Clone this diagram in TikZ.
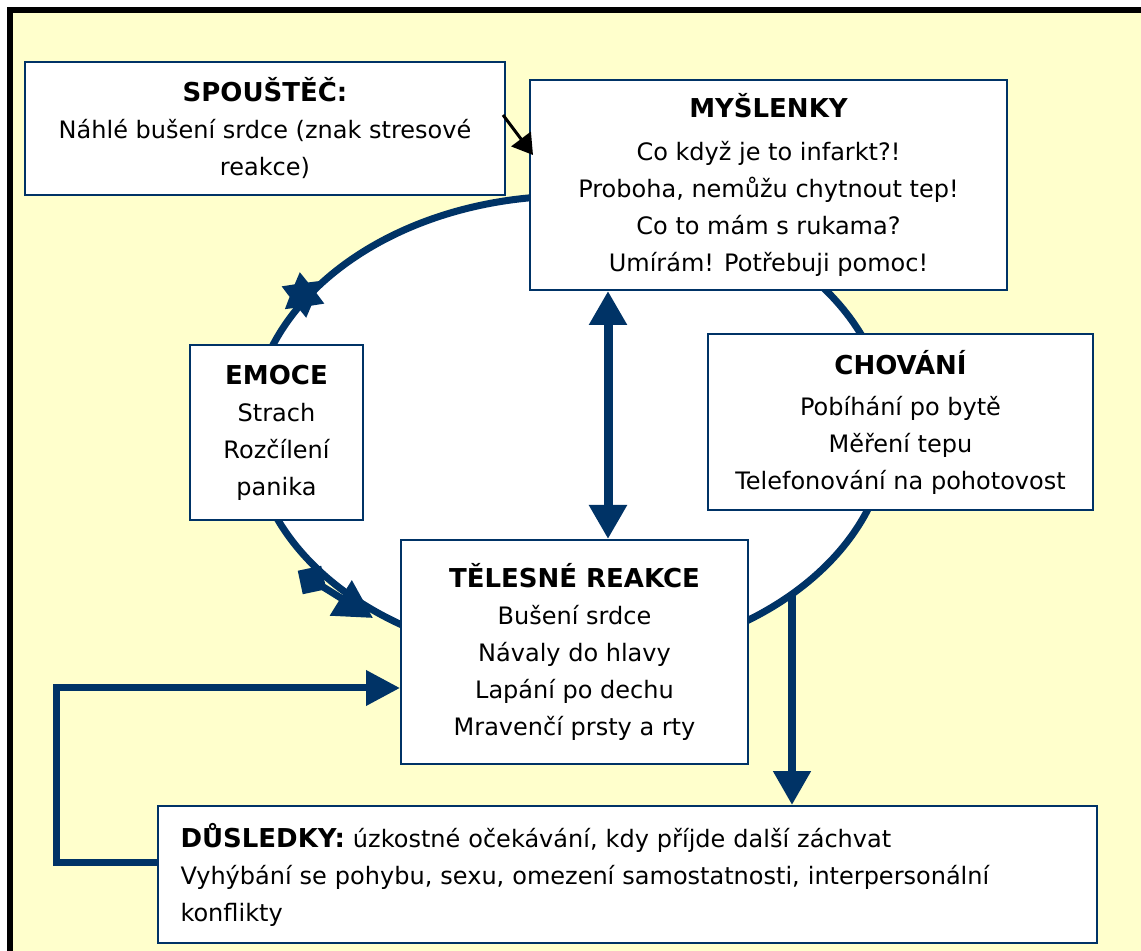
\documentclass[tikz,border=0pt]{standalone}
\usepackage{fontspec}
\setmainfont{DejaVu Sans}
\usetikzlibrary{arrows.meta,shapes.geometric}
\definecolor{navy}{RGB}{0,51,102}
\definecolor{paper}{RGB}{255,255,204}
\tikzset{
  box/.style={draw=navy, line width=1pt, fill=white, align=center, inner sep=0pt,
    font=\fontsize{12}{18.5}\selectfont},
  loopline/.style={draw=navy, line width=3.5pt},
  bigarrow/.style={navy, line width=4.5pt, -{Triangle[length=17pt,width=18pt]}},
}
\newcommand{\ttl}[1]{{\fontsize{13}{18.5}\selectfont\bfseries #1}}

\begin{document}
\begin{tikzpicture}[x=0.5pt,y=-0.5pt]
\useasboundingbox (0,0) rectangle (1141,951);
\fill [white] (0,0) rectangle (1141,951);
\fill [paper] (10,10) rectangle (1160,970);
\draw [black, line width=3pt] (10,970) -- (10,10) -- (1160,10);
% the loop
\draw [loopline, fill=white] (570,428) ellipse [x radius=318, y radius=232];
\node [star, star points=6, star point ratio=1.7, fill=navy, minimum size=23pt, inner sep=0pt, rotate=8] (stb) at (303,295) {};
\node [rectangle, fill=navy, minimum size=12pt, inner sep=0pt, rotate=12] (sqa) at (312,580) {};
\coordinate (tipa) at (373,618);
\draw [navy, line width=3.5pt, -{Triangle[length=19pt,width=20pt]}] (sqa.center) -- (tipa);
% boxes
\node [box, minimum width=240pt, minimum height=66.5pt] (spou) at (265,128.5)
  {\ttl{SPOUŠTĚČ:}\\Náhlé bušení srdce (znak stresové\\reakce)};
\node [box, minimum width=238.5pt, minimum height=105pt] (mysl) at (768.5,185)
  {\ttl{MYŠLENKY}\\[3pt]Co když je to infarkt?!\\Proboha, nemůžu chytnout tep!\\Co to mám s rukama?\\Umírám! Potřebuji pomoc!};
\node [box, minimum width=86.5pt, minimum height=87.5pt] (emoc) at (276.5,432.5)
  {\ttl{EMOCE}\\Strach\\Rozčílení\\panika};
\node [box, minimum width=192.5pt, minimum height=88pt] (chov) at (900.5,422)
  {\ttl{CHOVÁNÍ}\\[2pt]Pobíhání po bytě\\Měření tepu\\Telefonování na pohotovost};
\node [box, minimum width=173.5pt, minimum height=112pt] (teles) at (574.5,652)
  {\ttl{TĚLESNÉ REAKCE}\\Bušení srdce\\Návaly do hlavy\\Lapání po dechu\\Mravenčí prsty a rty};
\node [box, align=left, text width=447pt, minimum width=469.5pt, minimum height=68.5pt] (dusl) at (627.5,874.5)
  {\ttl{DŮSLEDKY:} úzkostné očekávání, kdy příjde další záchvat\\Vyhýbání se pohybu, sexu, omezení samostatnosti, interpersonální\\konflikty};
% arrows
\coordinate (ax) at (608,0);
\draw [bigarrow, {Triangle[length=17pt,width=18pt]}-{Triangle[length=17pt,width=18pt]}] (teles.north -| ax) -- (mysl.south -| ax);
\coordinate (lp) at (792,594);
\draw [bigarrow, line width=4pt] (lp) -- (dusl.north -| lp);
\coordinate (fb) at (56,688);
\draw [navy, line width=3.5pt, -{Triangle[length=17pt,width=17pt]}] ([yshift=6pt]dusl.west) -| (fb) -- (teles.west |- fb);
\draw [black, line width=1.5pt, -{Triangle[length=10pt,width=12pt]}] ([xshift=-1.5pt,yshift=6.75pt]spou.east) -- ([xshift=2pt,yshift=15pt]mysl.west);
\end{tikzpicture}
\end{document}
